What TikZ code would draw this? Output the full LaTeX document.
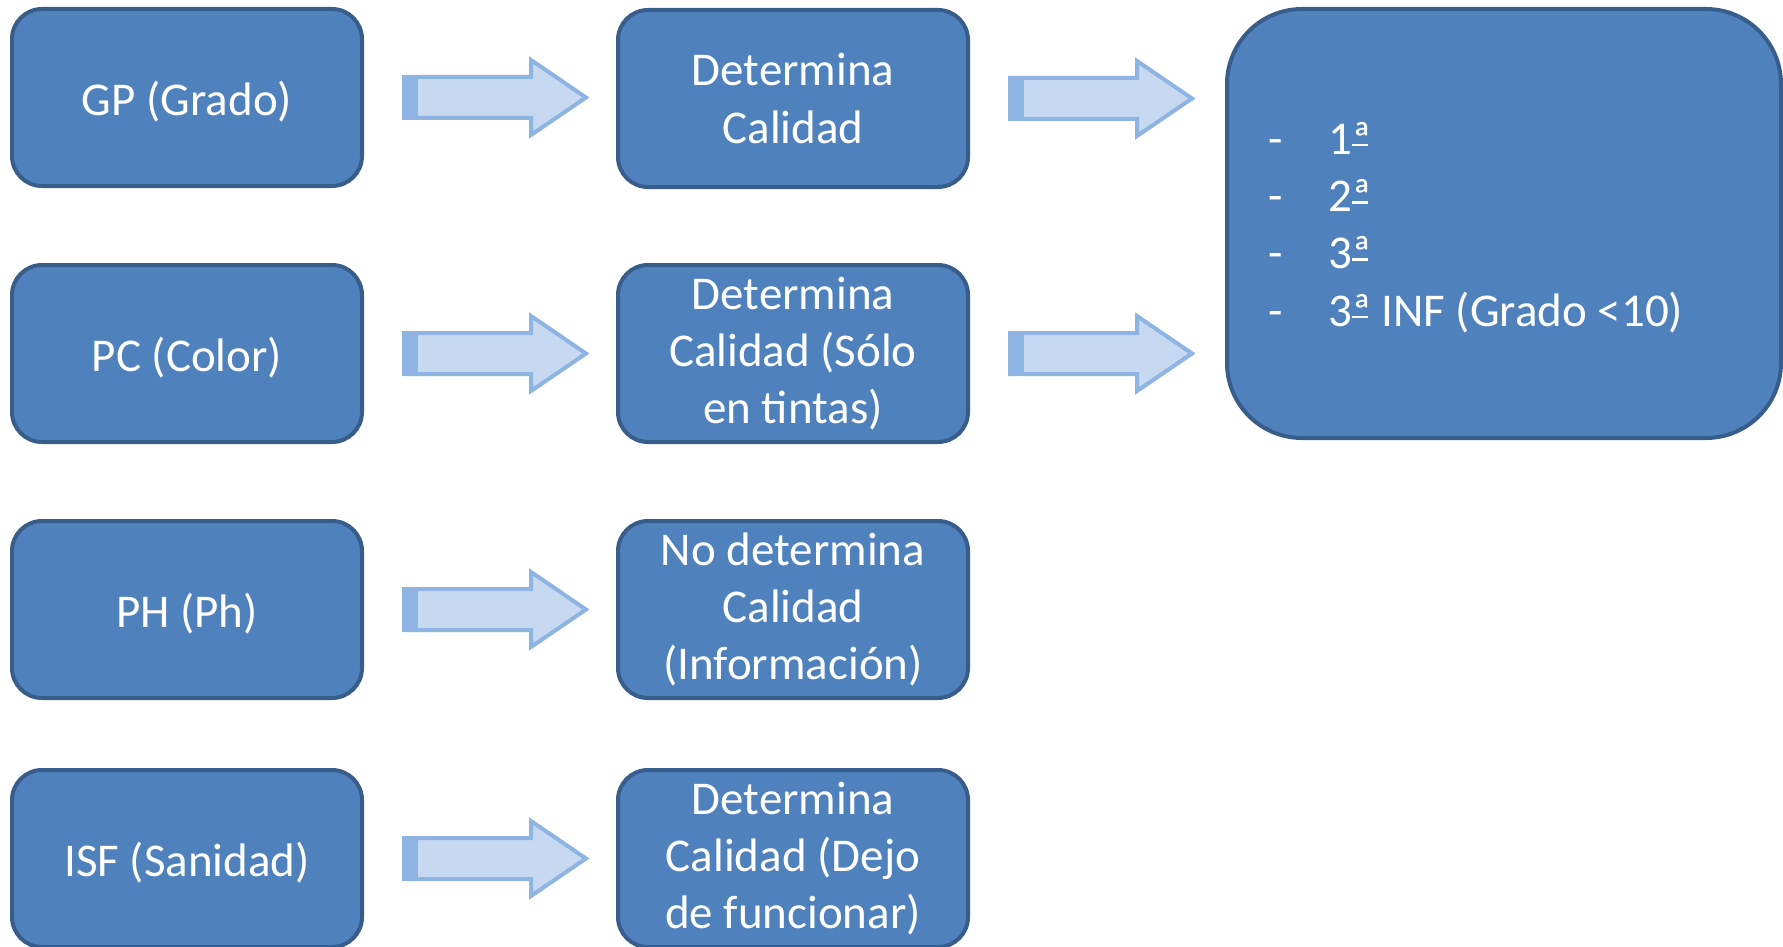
\documentclass[tikz,border=0pt]{standalone}
\usepackage{fontspec}
\setmainfont{Carlito}
\usetikzlibrary{calc}
\definecolor{boxblue}{HTML}{4F81BD}
\definecolor{boxline}{HTML}{385D8A}
\definecolor{arrfill}{HTML}{C6D9F1}
\definecolor{arrline}{HTML}{8DB4E2}
\tikzset{
  box/.style={rectangle, rounded corners=30pt, fill=boxblue, draw=boxline, line width=4pt,
    minimum width=350pt, minimum height=177pt, inner sep=0pt, text=white, align=center,
    font=\fontsize{47}{57.3}\selectfont},
  oneline/.style={text height=36pt, text depth=0pt},
  bigbox/.style={box, rounded corners=75pt, minimum width=554pt, minimum height=429pt},
  blockarrow/.style={fill=arrfill, draw=arrline, line width=4pt, line join=miter},
  arrowstrip/.style={fill=arrline},
}
\newcommand\blockarr[1]{%
  \draw[blockarrow] ($(#1.east)+(40,-20.5)$) -- ++(127,0) -- ++(0,-17) -- ++(55,37.5)
     -- ++(-55,37.5) -- ++(0,-17) -- ++(-127,0) -- cycle;
  \fill[arrowstrip] ($(#1.east)+(38,-22.5)$) rectangle ++(16,45);
}
\newcommand\ordA{\leavevmode\rlap{\rule[0.17em]{0.33em}{0.055em}}ª}
\newcommand\dashitem{\makebox[60pt][l]{-}}
\begin{document}
\begin{tikzpicture}[x=1pt,y=-1pt]
\useasboundingbox (0,0) rectangle (1783,947);
\node[box,oneline] (gp) at (187,97.5) {GP (Grado)};
\node[box,oneline] (pc) at (187,353.5) {PC (Color)};
\node[box,oneline] (ph) at (187,609.5) {PH (Ph)};
\node[box,oneline] (isf) at (187,858.5) {ISF (Sanidad)};
\node[box] (d1) at (793,98.5) {Determina\\Calidad};
\node[box] (d2) at (793,353.5) {Determina\\Calidad (Sólo\\en tintas)};
\node[box] (d3) at (793,609.5) {No determina\\Calidad\\(Información)};
\node[box] (d4) at (793,858.5) {Determina\\Calidad (Dejo\\de funcionar)};
\node[bigbox] (cal) at (1504,223.5) {};
\node[anchor=west, inner sep=0pt, text=white, align=left, font=\fontsize{47}{57.3}\selectfont]
  (lst) at (1268,227.5) {\dashitem 1\ordA\\\dashitem 2\ordA\\\dashitem 3\ordA\\\dashitem 3\ordA{} INF (Grado <10)};
\blockarr{gp}
\blockarr{pc}
\blockarr{ph}
\blockarr{isf}
\blockarr{d1}
\blockarr{d2}
\end{tikzpicture}
\end{document}
